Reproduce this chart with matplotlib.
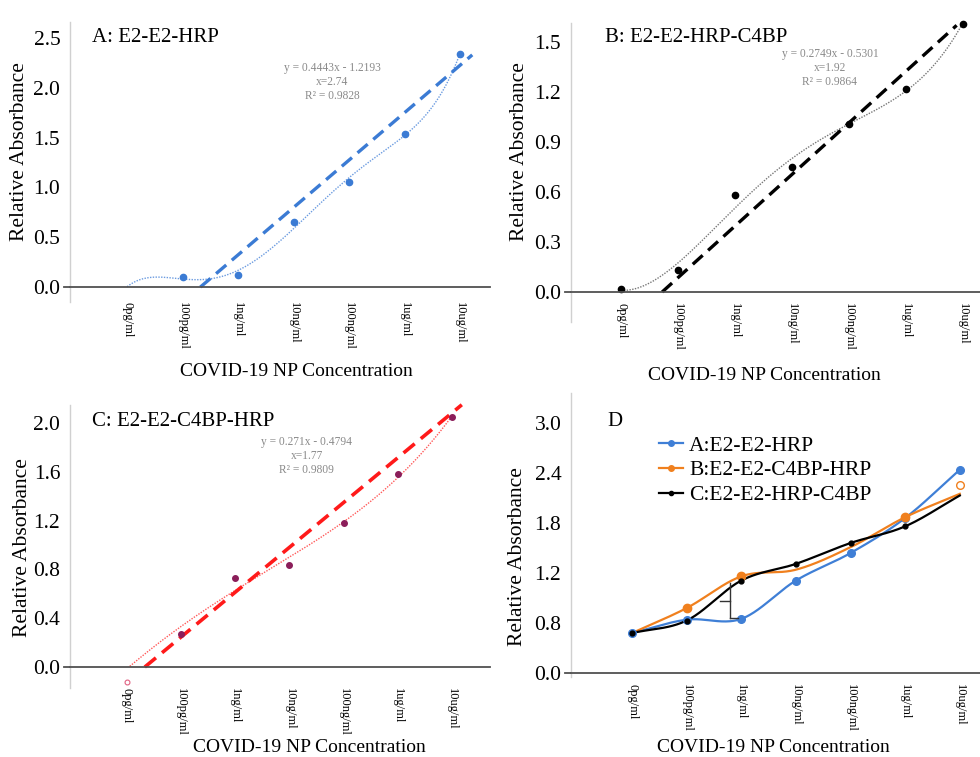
import numpy as np
import matplotlib
matplotlib.use("Agg")
import matplotlib.pyplot as plt

plt.rcParams['font.family'] = ['Liberation Serif', 'DejaVu Serif']

# ---------------- data ----------------
categories = ["0pg/ml", "100pg/ml", "1ng/ml", "10ng/ml", "100ng/ml", "1ug/ml", "10ug/ml"]
cat_pos = [1, 2, 3, 4, 5, 6, 7]

A_vals = [0.0, 0.10, 0.12, 0.65, 1.05, 1.54, 2.34]
B_vals = [0.02, 0.13, 0.58, 0.75, 1.01, 1.22, 1.61]
C_vals = [0.0, 0.27, 0.73, 0.84, 1.18, 1.58, 2.05]
C_open = -0.12  # open marker at 0pg/ml

trend_A_x, trend_A_y = [2.32, 7.22], [0.0, 2.33]
trend_B_x, trend_B_y = [1.72, 6.89], [0.0, 1.60]
trend_C_x, trend_C_y = [1.33, 7.18], [0.0, 2.15]

eq_A = "y = 0.4443x - 1.2193\nx=2.74\nR² = 0.9828"
eq_B = "y = 0.2749x - 0.5301\nx=1.92\nR² = 0.9864"
eq_C = "y = 0.271x - 0.4794\nx=1.77\nR² = 0.9809"

D_blue = [0.48, 0.64, 0.65, 1.11, 1.44, 1.86, 2.44]
D_orange = [0.48, 0.78, 1.16, 1.24, 1.51, 1.87, 2.15]
D_black = [0.48, 0.63, 1.11, 1.31, 1.56, 1.76, 2.13]
D_orange_open = 2.26
D_labels = ["A:E2-E2-HRP", "B:E2-E2-C4BP-HRP", "C:E2-E2-HRP-C4BP"]
bracket_x = [2.61, 2.79, 2.94]
bracket_y = [0.66, 0.86, 1.08]

A_ticks = [0.0, 0.5, 1.0, 1.5, 2.0, 2.5]
B_ticks = [0.0, 0.3, 0.6, 0.9, 1.2, 1.5]
C_ticks = [0.0, 0.4, 0.8, 1.2, 1.6, 2.0]
D_ticks = [0.0, 0.6, 1.2, 1.8, 2.4, 3.0]
D_ticklabels = ["0.0", "0.8", "1.2", "1.8", "2.4", "3.0"]

# ---------------- helpers ----------------
W, H = 980, 757
fig = plt.figure(figsize=(W / 100, H / 100), dpi=100)


def make_ax(left, right, top, bottom):
    return fig.add_axes([left / W, 1 - bottom / H, (right - left) / W, (bottom - top) / H])


def style(ax, xlim, ylim, yticks, yticklabels, xpad, ylab_xy, xlab_xy):
    ax.set_xlim(*xlim)
    ax.set_ylim(*ylim)
    for s in ("top", "right"):
        ax.spines[s].set_visible(False)
    ax.spines["left"].set_color("#d0d0d0")
    ax.spines["left"].set_linewidth(1.0)
    ax.spines["bottom"].set_position(("data", 0))
    ax.spines["bottom"].set_color("#505050")
    ax.spines["bottom"].set_linewidth(1.3)
    ax.set_yticks(yticks)
    ax.set_yticklabels(yticklabels)
    ax.set_xticks(cat_pos)
    ax.set_xticklabels(categories, rotation=-90, fontsize=9)
    ax.tick_params(axis="x", length=0, pad=xpad)
    ax.tick_params(axis="y", length=0, pad=7, labelsize=15.5)
    ax.set_ylabel("Relative Absorbance", fontsize=15.5)
    ax.yaxis.set_label_coords(*ylab_xy)
    ax.yaxis.label.set_va("center")
    ax.set_xlabel("COVID-19 NP Concentration", fontsize=14)
    ax.xaxis.set_label_coords(*xlab_xy)
    ax.xaxis.label.set_va("center")
    ax.patch.set_alpha(0)
    ax.axhline(0, xmin=-0.015, xmax=0.0, color="#505050", lw=1.3, clip_on=False)


def poly_curve(ax, x, y, deg, x0, x1, **kw):
    c = np.polyfit(x, y, deg)
    xs = np.linspace(x0, x1, 400)
    ys = np.polyval(c, xs)
    ys = np.where(ys < 0, np.nan, ys)
    ax.plot(xs, ys, **kw)


def catmull(x, y, n=40):
    x = np.asarray(x, float)
    y = np.asarray(y, float)
    px = np.concatenate([[2 * x[0] - x[1]], x, [2 * x[-1] - x[-2]]])
    py = np.concatenate([[2 * y[0] - y[1]], y, [2 * y[-1] - y[-2]]])
    xs, ys = [], []
    for i in range(1, len(px) - 2):
        t = np.linspace(0, 1, n)
        for arr, out in ((px, xs), (py, ys)):
            p0, p1, p2, p3 = arr[i - 1], arr[i], arr[i + 1], arr[i + 2]
            out.append(0.5 * ((2 * p1) + (-p0 + p2) * t + (2 * p0 - 5 * p1 + 4 * p2 - p3) * t ** 2
                              + (-p0 + 3 * p1 - 3 * p2 + p3) * t ** 3))
    return np.concatenate(xs), np.concatenate(ys)


# ---------------- Panel A ----------------
axA = make_ax(70, 490, 22, 302)
style(axA, (-0.03, 7.54), (-0.15, 2.66), A_ticks, [f"{v:.1f}" for v in A_ticks], 11,
      (-0.12, 0.536), (0.54, -0.25))
blue = "#3b7bd4"
poly_curve(axA, cat_pos, A_vals, 5, 1.0, 7.0, color="#6b9be0", lw=1.0, ls=(0, (1, 1)))
axA.plot(trend_A_x, trend_A_y, color=blue, lw=2.4, ls=(0, (4, 2.2)), clip_on=False)
axA.plot(cat_pos[1:], A_vals[1:], "o", color=blue, ms=4.5, clip_on=False)
axA.text(0.052, 0.943, "A: E2-E2-HRP", transform=axA.transAxes, fontsize=15, va="center", ha="left")
axA.text(0.624, 0.786, eq_A, transform=axA.transAxes, fontsize=8.3, color="#8a8a8a",
         ha="center", va="center", linespacing=1.25)

# ---------------- Panel B ----------------
axB = make_ax(571, 980, 23, 322)
style(axB, (0.12, 7.3), (-0.18, 1.614), B_ticks, [f"{v:.1f}" for v in B_ticks], 8,
      (-0.125, 0.569), (0.474, -0.18))
poly_curve(axB, cat_pos, B_vals, 4, 1.0, 7.0, color="#777777", lw=1.0, ls=(0, (1, 1)))
axB.plot(trend_B_x, trend_B_y, color="black", lw=2.4, ls=(0, (4, 2.2)), clip_on=False)
axB.plot(cat_pos, B_vals, "o", color="black", ms=4.5, clip_on=False)
axB.text(0.083, 0.95, "B: E2-E2-HRP-C4BP", transform=axB.transAxes, fontsize=15, va="center", ha="left")
axB.text(0.633, 0.849, eq_B, transform=axB.transAxes, fontsize=8.3, color="#8a8a8a",
         ha="center", va="center", linespacing=1.25)

# ---------------- Panel C ----------------
axC = make_ax(70, 490, 405, 688)
style(axC, (-0.05, 7.70), (-0.172, 2.148), C_ticks, [f"{v:.1f}" for v in C_ticks], 15,
      (-0.114, 0.498), (0.571, -0.212))
poly_curve(axC, cat_pos, C_vals, 4, 0.9, 7.0, color="#ff5a5a", lw=1.0, ls=(0, (1, 1)))
axC.plot(trend_C_x, trend_C_y, color="#ff1a1a", lw=2.6, ls=(0, (4, 2.2)), clip_on=False)
axC.plot(cat_pos[1:], C_vals[1:], "o", color="#8b1e5a", ms=4, clip_on=False)
axC.plot(cat_pos[:1], [C_open], "o", mfc="white", mec="#e06080", ms=3.5, mew=0.8, clip_on=False)
axC.text(0.052, 0.94, "C: E2-E2-C4BP-HRP", transform=axC.transAxes, fontsize=15, va="center", ha="left")
axC.text(0.564, 0.82, eq_C, transform=axC.transAxes, fontsize=8.3, color="#8a8a8a",
         ha="center", va="center", linespacing=1.25)

# ---------------- Panel D ----------------
axD = make_ax(571, 980, 393, 677)
style(axD, (-0.12, 7.37), (-0.048, 3.36), D_ticks, D_ticklabels, 8,
      (-0.13, 0.423), (0.494, -0.25))
dblue, dorange = "#3f7fd6", "#f0801e"
xs, ys = catmull(cat_pos, D_blue)
axD.plot(xs, ys, color=dblue, lw=1.6)
xs, ys = catmull(cat_pos, D_orange)
axD.plot(xs, ys, color=dorange, lw=1.6)
xs, ys = catmull(cat_pos, D_black)
axD.plot(xs, ys, color="black", lw=1.6)
axD.plot(cat_pos, D_blue, "o", color=dblue, ms=5.5, ls="none")
axD.plot([cat_pos[i] for i in (1, 2, 5)], [D_orange[i] for i in (1, 2, 5)], "o", color=dorange,
         ms=6, ls="none")
axD.plot(cat_pos[:6], D_black[:6], "o", color="black", ms=3.5, ls="none")
axD.plot([cat_pos[-1]], [D_orange_open], "o", mfc="white", mec=dorange, ms=5.5, mew=1.0, ls="none")
# bracket
axD.plot([bracket_x[1], bracket_x[1]], [bracket_y[0], bracket_y[2]], color="#333333", lw=1.0)
axD.plot([bracket_x[1], bracket_x[2]], [bracket_y[0], bracket_y[0]], color="#333333", lw=1.0)
axD.plot([bracket_x[0], bracket_x[1]], [bracket_y[1], bracket_y[1]], color="#333333", lw=1.0)
# legend
hb, = axD.plot([], [], "-o", color=dblue, ms=4, lw=1.6)
ho, = axD.plot([], [], "-o", color=dorange, ms=4, lw=1.6)
hk, = axD.plot([], [], "-o", color="black", ms=3, lw=1.6)
axD.legend([hb, ho, hk], D_labels, loc="upper left", bbox_to_anchor=(0.215, 0.85),
           frameon=False, fontsize=15.5, handlelength=1.1, handletextpad=0.3,
           labelspacing=0.22, borderpad=0, borderaxespad=0)
axD.text(0.088, 0.898, "D", transform=axD.transAxes, fontsize=15, va="center", ha="left")

fig.savefig("out.png", dpi=100)
